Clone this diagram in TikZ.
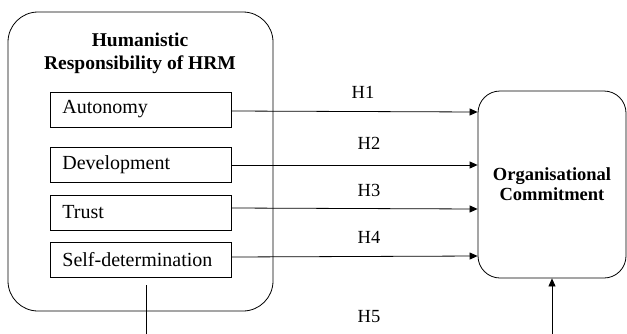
\documentclass[tikz,border=0pt]{standalone}
\usepackage{fontspec}
\setmainfont{Liberation Serif}
\usetikzlibrary{arrows.meta}
\begin{document}
\begin{tikzpicture}[x=1pt,y=-1pt,
  bigbox/.style={draw, line width=0.8pt, rounded corners=30pt, inner sep=0pt},
  itembox/.style={draw, line width=0.8pt, minimum width=181pt, minimum height=35pt, inner sep=0pt, anchor=west, font=\fontsize{20}{22}\selectfont, text width=157pt, align=left},
  hlab/.style={font=\fontsize{18.5}{22}\selectfont, inner sep=0pt},
  arr/.style={line width=0.8pt, -{Triangle[length=8pt,width=7pt]}},
  ln/.style={line width=0.8pt}]
\useasboundingbox (0,0) rectangle (627,333);
\node[bigbox, minimum width=265pt, minimum height=299pt] (hrm) at (140.5,161.5) {};
\node[font=\bfseries\fontsize{19.5}{23}\selectfont, align=center, inner sep=0pt] (title) at (140,53) {Humanistic\\Responsibility of HRM};
\node[itembox] (auto) at (50,109.5) {Autonomy};
\node[itembox] (dev) at (50,165) {Development};
\node[itembox] (trust) at (50,212.5) {Trust};
\node[itembox] (self) at (50,260) {Self-determination};
\node[draw, line width=0.8pt, rounded corners=22pt, minimum width=148pt, minimum height=187pt, inner sep=0pt, font=\bfseries\fontsize{18.5}{20}\selectfont, align=center] (oc) at (552,184.5) {Organisational\\Commitment};
\draw[arr] (auto.east |- 0,111) -- (oc.west |- 0,112);
\draw[arr] (dev.east |- 0,165) -- (oc.west |- 0,165);
\draw[arr] (trust.east |- 0,208) -- (oc.west |- 0,209);
\draw[arr] (self.east |- 0,257) -- (oc.west |- 0,256);
\node[hlab] (h1) at (363,92) {H1};
\node[hlab] (h2) at (369,143) {H2};
\node[hlab] (h3) at (369,190) {H3};
\node[hlab] (h4) at (369,237) {H4};
\node[hlab] (h5) at (369,317) {H5};
\coordinate (lt) at (146,285);
\coordinate (lb) at (146,334);
\coordinate (rb) at (552,334);
\draw[ln] (lt) -- (lb);
\draw[arr] (rb) -- (oc.south);
\end{tikzpicture}
\end{document}
